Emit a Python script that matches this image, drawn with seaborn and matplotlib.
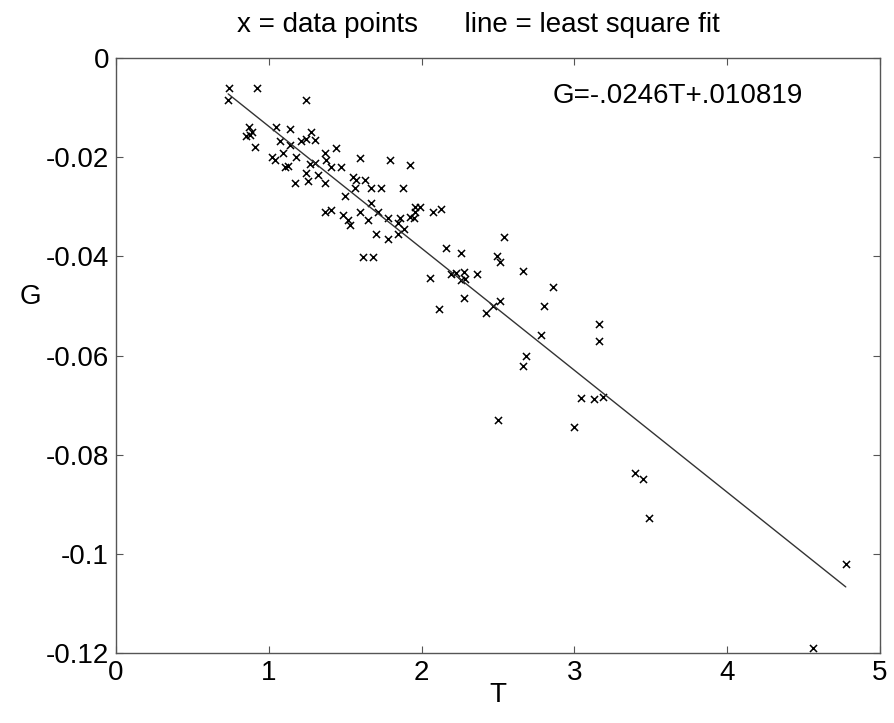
import numpy as np
import pandas as pd
import seaborn as sns
import matplotlib
matplotlib.use("Agg")
import matplotlib.pyplot as plt
from matplotlib.ticker import FixedLocator, FixedFormatter

# ---- data ----
T = [0.741, 0.924, 0.734, 1.242, 0.871, 0.887, 0.854, 0.876, 0.908, 1.046,
     1.137, 1.279, 1.072, 1.137, 1.214, 1.246, 1.301, 1.443, 1.018, 1.039,
     1.093, 1.181, 1.105, 1.126, 1.170, 1.257, 1.366, 1.268, 1.301, 1.322,
     1.366, 1.373, 1.410, 1.475, 1.595, 1.791, 1.922, 1.551, 1.573, 1.627,
     1.562, 1.671, 1.737, 1.878, 1.497, 1.671, 1.595, 1.714, 1.780, 1.856,
     1.845, 1.926, 1.954, 1.366, 1.410, 1.486, 1.518, 1.529, 1.649, 1.704,
     1.780, 1.845, 1.882, 1.616, 1.682, 1.246, 1.954, 1.992, 1.948, 2.074,
     2.129, 2.536, 2.161, 2.259, 2.492, 2.510, 2.662, 2.057, 2.194, 2.227,
     2.275, 2.259, 2.281, 2.361, 2.858, 2.276, 2.113, 2.423, 2.466, 2.510,
     2.804, 2.782, 3.159, 3.159, 2.684, 2.662, 3.044, 3.131, 3.190, 2.499,
     2.995, 3.399, 3.446, 3.490, 4.776, 4.560]
G = [-0.0061, -0.0061, -0.0085, -0.0085, -0.0139, -0.0149, -0.0157, -0.0155, -0.0180, -0.0139,
     -0.0144, -0.0149, -0.0167, -0.0175, -0.0167, -0.0164, -0.0165, -0.0181, -0.0200, -0.0206,
     -0.0192, -0.0200, -0.0219, -0.0218, -0.0253, -0.0249, -0.0253, -0.0214, -0.0212, -0.0236,
     -0.0191, -0.0206, -0.0219, -0.0220, -0.0202, -0.0206, -0.0216, -0.0239, -0.0246, -0.0246,
     -0.0263, -0.0263, -0.0263, -0.0263, -0.0278, -0.0293, -0.0310, -0.0310, -0.0323, -0.0323,
     -0.0333, -0.0320, -0.0300, -0.0310, -0.0306, -0.0317, -0.0327, -0.0337, -0.0327, -0.0355,
     -0.0366, -0.0355, -0.0345, -0.0402, -0.0402, -0.0232, -0.0310, -0.0300, -0.0323, -0.0310,
     -0.0305, -0.0361, -0.0384, -0.0393, -0.0399, -0.0411, -0.0429, -0.0444, -0.0435, -0.0434,
     -0.0431, -0.0448, -0.0446, -0.0435, -0.0461, -0.0484, -0.0507, -0.0514, -0.0501, -0.0491,
     -0.0501, -0.0558, -0.0537, -0.0570, -0.0601, -0.0621, -0.0685, -0.0688, -0.0684, -0.0730,
     -0.0745, -0.0837, -0.0849, -0.0928, -0.1021, -0.1190]

fit_slope = -0.0246
fit_intercept = 0.010819

x_ticks = [0, 1, 2, 3, 4, 5]
x_tick_labels = ["0", "1", "2", "3", "4", "5"]
y_ticks = [0, -0.02, -0.04, -0.06, -0.08, -0.1, -0.12]
y_tick_labels = ["0", "-0.02", "-0.04", "-0.06", "-0.08", "-0.1", "-0.12"]

title_text = "x = data points      line = least square fit"
equation_text = "G=-.0246T+.010819"

# ---- build frames ----
df = pd.DataFrame({"T": T, "G": G})
t_sorted = np.sort(np.array(T))
fit_df = pd.DataFrame({"T": t_sorted, "G": fit_slope * t_sorted + fit_intercept})

sns.set_style("ticks")
plt.rcParams["font.family"] = ["Liberation Sans", "DejaVu Sans"]
plt.rcParams["text.color"] = "black"
plt.rcParams["axes.labelcolor"] = "black"

W, H = 895, 723
fig = plt.figure(figsize=(W / 100, H / 100), dpi=100)
ax = fig.add_axes([116 / W, 1 - 653 / H, (880 - 116) / W, (653 - 58) / H])

sns.lineplot(data=fit_df, x="T", y="G", ax=ax, color="#333333", linewidth=1.0)
sns.scatterplot(data=df, x="T", y="G", ax=ax, marker="x", s=26, color="black",
                linewidth=1.1)

ax.set_xlim(0, 5)
ax.set_ylim(-0.12, 0)
ax.xaxis.set_major_locator(FixedLocator(x_ticks))
ax.xaxis.set_major_formatter(FixedFormatter(x_tick_labels))
ax.yaxis.set_major_locator(FixedLocator(y_ticks))
ax.yaxis.set_major_formatter(FixedFormatter(y_tick_labels))

ax.tick_params(direction="in", length=5, width=0.8, top=True, right=True,
               labelsize=20, pad=5, colors="#555555", labelcolor="black")
for sp in ax.spines.values():
    sp.set_visible(True)
    sp.set_color("#555555")
    sp.set_linewidth(1.0)

ax.set_xlabel("T", fontsize=20, labelpad=-3)
ax.set_ylabel("G", fontsize=20, rotation=0, labelpad=0)
ax.yaxis.set_label_coords(-0.112, 0.576)

ax.text(2.856, -0.0077, equation_text, fontsize=20, ha="left", va="center")
fig.text(478 / W, 1 - 25 / H, title_text, fontsize=20, ha="center", va="center")

fig.savefig("out.png", dpi=100)
